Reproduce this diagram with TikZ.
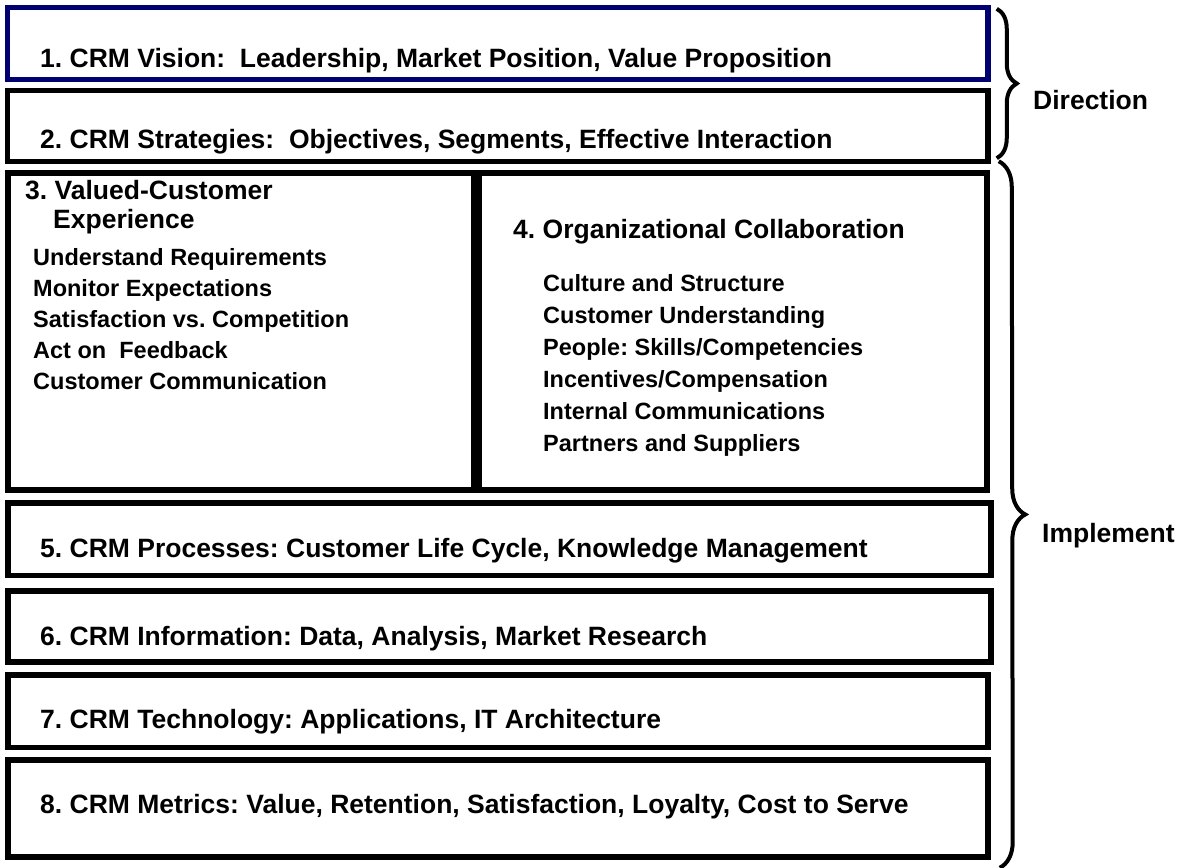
\documentclass[tikz,border=0pt]{standalone}
\usepackage{fontspec}
\setmainfont{Liberation Sans}
\usetikzlibrary{positioning, decorations.pathreplacing}
\definecolor{visionblue}{RGB}{0,0,112}
\frenchspacing

\begin{document}
\begin{tikzpicture}[x=1pt, y=1pt,
	layer/.style={draw, line width=5.5pt, inner sep=0pt},
	lbl/.style={anchor=base west, inner sep=0pt, font=\fontsize{26.5}{32}\selectfont\bfseries},
	item/.style={lbl, font=\fontsize{23.5}{30}\selectfont\bfseries},
	brc/.style={draw, line width=4pt, decorate, decoration={brace, amplitude=#1}}]
	\useasboundingbox (0,0) rectangle (1182,-867);

	% the eight layers
	\node[layer, draw=visionblue, minimum width=980.5pt, minimum height=72pt] (b1) at (497.75,-43.5) {};
	\node[layer, minimum width=980.5pt, minimum height=71pt] (b2) at (497.75,-126) {};
	\node[layer, minimum width=466pt, minimum height=317pt] (b3) at (241,-331.5) {};
	\node[layer, minimum width=508pt, minimum height=317pt] (b4) at (733,-331.5) {};
	\node[layer, minimum width=983pt, minimum height=72.5pt] (b5) at (499.5,-539.25) {};
	\node[layer, minimum width=983pt, minimum height=71pt] (b6) at (499.5,-626.5) {};
	\node[layer, minimum width=980pt, minimum height=72.5pt] (b7) at (498,-711.25) {};
	\node[layer, minimum width=980pt, minimum height=97pt] (b8) at (498,-808.5) {};

	\draw (40,-67) node[lbl] (t1) {1. CRM Vision:\ \ Leadership, Market Position, Value Proposition}
		(40,-148) node[lbl] (t2) {2. CRM Strategies:\ \ Objectives, Segments, Effective Interaction}
		(25,-199) node[lbl] (t3) {3. Valued-Customer}
		(53,-228) node[lbl] (t3b) {Experience}
		(513,-238) node[lbl] (t4) {4. Organizational Collaboration}
		(40,-557) node[lbl] (t5) {5. CRM Processes: Customer Life Cycle, Knowledge Management}
		(40,-645) node[lbl] (t6) {6. CRM Information: Data, Analysis, Market Research}
		(40,-728) node[lbl] (t7) {7. CRM Technology: Applications, IT Architecture}
		(40,-813) node[lbl] (t8) {8. CRM Metrics: Value, Retention, Satisfaction, Loyalty, Cost to Serve};

	% customer experience items
	\draw (33,-265) node[item] (l3a) {Understand Requirements}
		(33,-296) node[item] (l3b) {Monitor Expectations}
		(33,-327) node[item] (l3c) {Satisfaction vs. Competition}
		(33,-358) node[item] (l3d) {Act on\ \ Feedback}
		(33,-389) node[item] (l3e) {Customer Communication};

	% collaboration items
	\draw (543,-291) node[item] (l4a) {Culture and Structure}
		(543,-323) node[item] (l4b) {Customer Understanding}
		(543,-355) node[item] (l4c) {People: Skills/Competencies}
		(543,-387) node[item] (l4d) {Incentives/Compensation}
		(543,-419) node[item] (l4e) {Internal Communications}
		(543,-451) node[item] (l4f) {Partners and Suppliers};

	% braces
	\draw[brc=20pt] ([xshift=6pt,yshift=-4pt]b1.north east) -- ([xshift=6pt,yshift=6pt]b2.south east);
	\draw[brc=26pt] ([xshift=9pt,yshift=9pt]b4.north east) -- ([xshift=9pt,yshift=-8pt]b8.south east);
	\draw (1033,-109) node[lbl] (dir) {Direction}
		(1042,-542) node[lbl] (imp) {Implement};
\end{tikzpicture}
\end{document}
